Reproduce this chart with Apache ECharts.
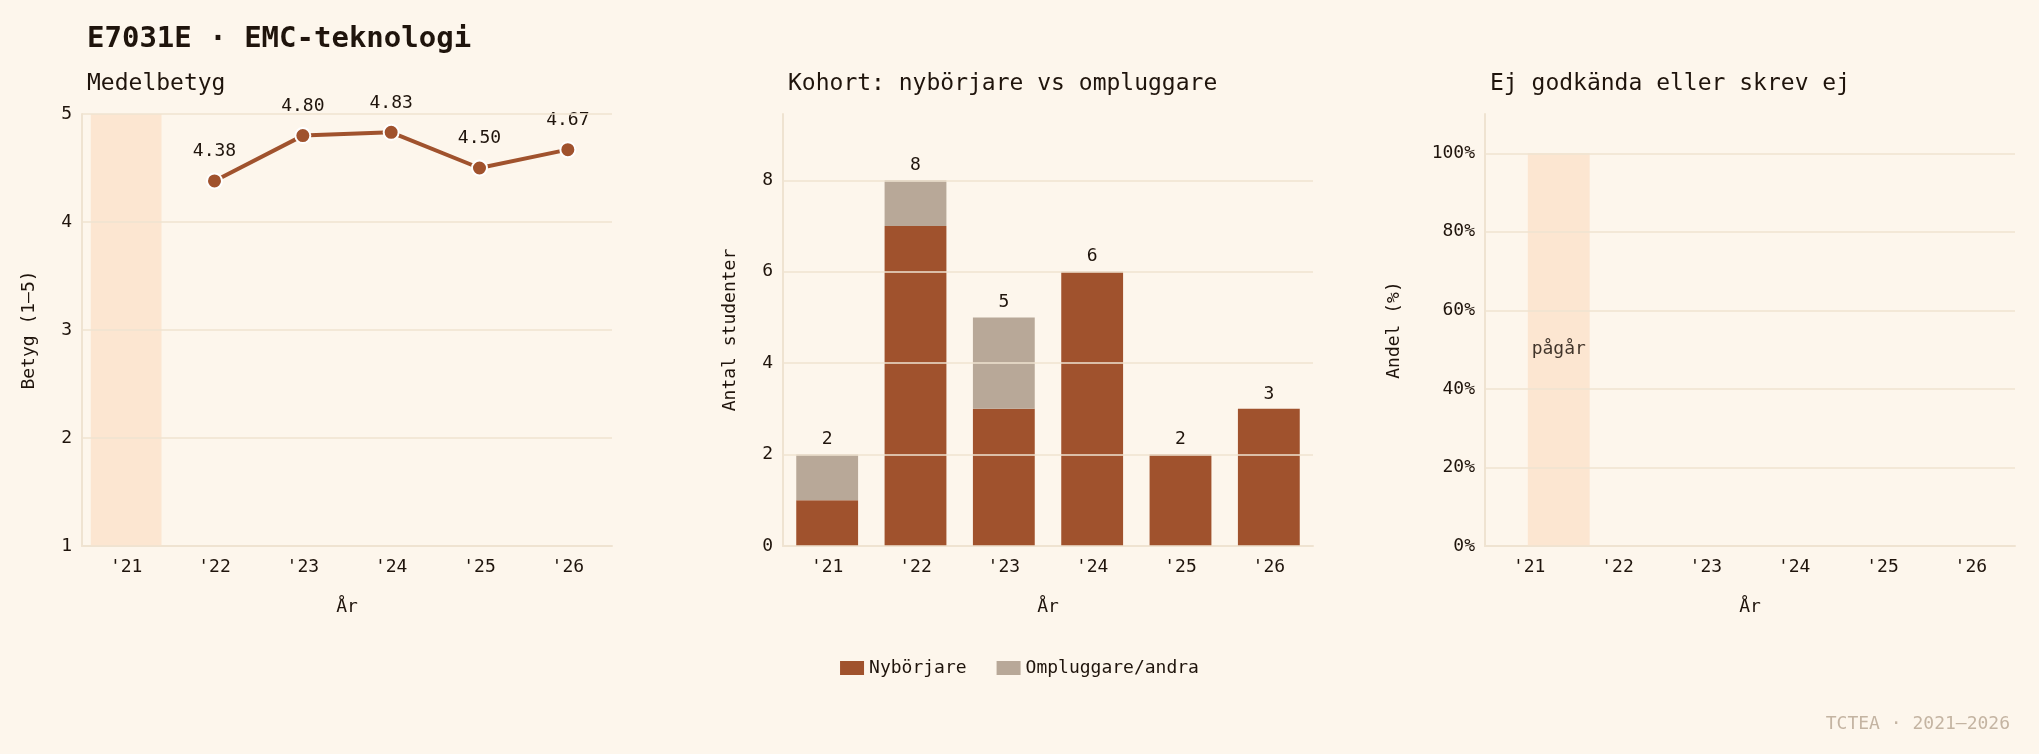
<!DOCTYPE html>
<html><head><meta charset="utf-8">
<script src="https://cdn.jsdelivr.net/npm/echarts@6/dist/echarts.min.js"></script>
<style>html,body{margin:0;background:#fdf6ec}#c{width:2039px;height:754px}</style>
</head><body><div id="c"></div>
<script>
const years = ["'21","'22","'23","'24","'25","'26"];
const grade = [null,4.38,4.80,4.83,4.50,4.67];
const nyb = [1,7,3,6,2,3];
const omp = [1,1,2,0,0,0];
const fail = [null,null,null,null,null,null];
const ongoing = [1,0,0,0,0,0];
const cohortTicks = [0,2,4,6,8];
const failTicks = [0,20,40,60,80,100];

const F = 'DejaVu Sans Mono';
const txt = '#1f140c', grid = '#efe3d1', band = '#fbe3cc', rust = '#a0522d', grey = '#b8a898';
const grids = [{left:82,right:1427,top:114,bottom:208},{left:783,right:726,top:114,bottom:208},{left:1485,right:24,top:114,bottom:208}];
function xAx(i){return {type:'category',gridIndex:i,data:years,axisTick:{show:false},
  axisLine:{lineStyle:{color:grid,width:2}},axisLabel:{color:txt,fontFamily:F,fontSize:18,margin:12},
  name:'År',nameLocation:'middle',nameGap:52,nameTextStyle:{color:txt,fontFamily:F,fontSize:18}};}
function yAx(i,o){return Object.assign({type:'value',gridIndex:i,axisTick:{show:false},
  axisLine:{show:true,lineStyle:{color:grid,width:2}},axisLabel:{color:txt,fontFamily:F,fontSize:18,margin:10},
  splitLine:{show:false},nameLocation:'middle',nameTextStyle:{color:txt,fontFamily:F,fontSize:18}},o);}
function gl(ticks){return {silent:true,symbol:'none',label:{show:false},lineStyle:{color:grid,width:1.5,type:'solid'},data:ticks.map(v=>({yAxis:v}))};}
const sum = nyb.map((v,i)=>v+omp[i]);
const opt = {
  backgroundColor:'#fdf6ec', animation:false,
  title:[
    {text:'E7031E · EMC-teknologi',left:82,top:20,textStyle:{fontFamily:F,fontSize:29,fontWeight:'bold',color:txt}},
    {text:'Medelbetyg',left:82,top:68,textStyle:{fontFamily:F,fontSize:23,fontWeight:'normal',color:txt}},
    {text:'Kohort: nybörjare vs ompluggare',left:783,top:68,textStyle:{fontFamily:F,fontSize:23,fontWeight:'normal',color:txt}},
    {text:'Ej godkända eller skrev ej',left:1485,top:68,textStyle:{fontFamily:F,fontSize:23,fontWeight:'normal',color:txt}},
    {text:'TCTEA · 2021–2026',right:24,top:710,textStyle:{fontFamily:F,fontSize:18,fontWeight:'normal',color:'#c4b4a2'}}
  ],
  legend:{data:['Nybörjare','Ompluggare/andra'],left:'center',top:654,itemWidth:24,itemHeight:14,itemGap:30,
    textStyle:{fontFamily:F,fontSize:18,color:txt},icon:'rect'},
  grid:grids,
  xAxis:[xAx(0),xAx(1),xAx(2)],
  yAxis:[
    yAx(0,{min:1,max:5,interval:1,name:'Betyg (1–5)',nameGap:44}),
    yAx(1,{min:0,max:9.45,interval:2,name:'Antal studenter',nameGap:44,axisLabel:{color:txt,fontFamily:F,fontSize:18,margin:10,showMaxLabel:false}}),
    yAx(2,{min:0,max:110,interval:20,name:'Andel (%)',nameGap:82,axisLabel:{color:txt,fontFamily:F,fontSize:18,margin:10,formatter:'{value}%',showMaxLabel:false}})
  ],
  series:[
    {type:'bar',xAxisIndex:0,yAxisIndex:0,data:ongoing.map(v=>v?5:null),barWidth:'80%',itemStyle:{color:band,opacity:0.85},silent:true,z:1,
      markLine:gl([1,2,3,4,5])},
    {type:'line',xAxisIndex:0,yAxisIndex:0,data:grade,lineStyle:{color:rust,width:4},itemStyle:{color:rust,borderColor:'#fff',borderWidth:2},
      symbol:'circle',symbolSize:15,label:{show:true,position:'top',distance:12,formatter:p=>p.value.toFixed(2),fontFamily:F,fontSize:18,color:txt},z:3},
    {name:'Nybörjare',type:'bar',stack:'k',xAxisIndex:1,yAxisIndex:1,data:nyb,barWidth:'70%',itemStyle:{color:rust},markLine:gl(cohortTicks),z:3},
    {name:'Ompluggare/andra',type:'bar',stack:'k',xAxisIndex:1,yAxisIndex:1,data:omp,itemStyle:{color:grey},z:3,
      label:{show:true,position:'top',distance:6,fontFamily:F,fontSize:18,color:txt,formatter:p=>sum[p.dataIndex]}},
    {type:'bar',xAxisIndex:2,yAxisIndex:2,data:ongoing.map(v=>v?100:null),barWidth:'70%',itemStyle:{color:band,opacity:0.85},silent:true,z:1,
      label:{show:true,position:'inside',formatter:'pågår',fontFamily:F,fontSize:18,color:txt},markLine:gl(failTicks)},
    {type:'bar',xAxisIndex:2,yAxisIndex:2,data:fail,itemStyle:{color:rust},barGap:'-100%',z:3}
  ]
};
echarts.init(document.getElementById('c')).setOption(opt);
</script></body></html>
